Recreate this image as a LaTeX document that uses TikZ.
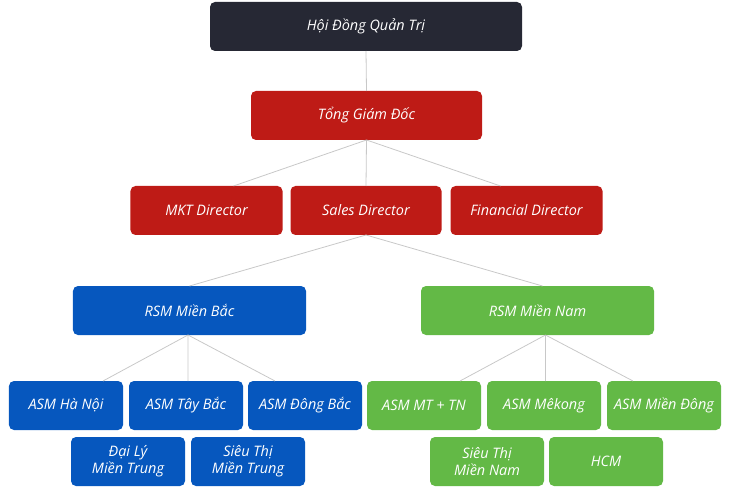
\documentclass[tikz,border=0pt]{standalone}
\usepackage{fontspec}
\setmainfont{Open Sans}
\usepackage{tikz}
\usetikzlibrary{positioning}

\definecolor{boardc}{HTML}{262834}
\definecolor{redc}{HTML}{BE1B16}
\definecolor{bluec}{HTML}{0657BE}
\definecolor{greenc}{HTML}{63B946}
\definecolor{linec}{HTML}{C8C8C8}

\begin{document}
\begin{tikzpicture}[x=1bp,y=-1bp,every node/.style={outer sep=0pt},
        box/.style={rounded corners=5bp,text=white,minimum height=49bp,
        inner sep=2bp,align=center,font=\itshape\fontsize{14.5}{17}\selectfont},
        board/.style={box,fill=boardc,minimum width=312bp},
        ceo/.style={box,fill=redc,minimum width=231bp},
        dir/.style={box,fill=redc,minimum width=152bp},
        rsmb/.style={box,fill=bluec,minimum width=233bp},
        rsmn/.style={box,fill=greenc,minimum width=233bp},
        asmb/.style={box,fill=bluec,minimum width=114bp},
        asmn/.style={box,fill=greenc,minimum width=114bp},
        link/.style={draw=linec,line width=0.8bp}]

        \useasboundingbox (0,0) rectangle (730,495);

        % Top
        \node[board] (hdqt) at (366,26.5) {Hội Đồng Quản Trị};
        \node[ceo] (tgd) at (366.5,115.5) {Tổng Giám Đốc};
        % Directors
        \node[dir,minimum width=151bp] (sales) at (366,210.5) {Sales Director};
        \node[dir,left=8bp of sales] (mkt) {MKT Director};
        \node[dir,right=9bp of sales] (fin) {Financial Director};
        % Regions
        \node[rsmb] (rsmbac) at (189.5,310.5) {RSM Miền Bắc};
        \node[rsmn] (rsmnam) at (537.5,310.5) {RSM Miền Nam};
        % North
        \node[asmb] (hanoi) at (66,405.5) {ASM Hà Nội};
        \node[asmb,right=6bp of hanoi] (taybac) {ASM Tây Bắc};
        \node[asmb,right=5bp of taybac] (dongbac) {ASM Đông Bắc};
        \node[asmb] (daily) at (128,461.5) {Đại Lý\\Miền Trung};
        \node[asmb,right=6bp of daily] (stmt) {Siêu Thị\\Miền Trung};
        % South
        \node[asmn] (mttn) at (424,405.5) {ASM MT + TN};
        \node[asmn,right=6bp of mttn] (mekong) {ASM Mêkong};
        \node[asmn,right=6bp of mekong] (miendong) {ASM Miền Đông};
        \node[asmn] (stmn) at (487,461.5) {Siêu Thị\\Miền Nam};
        \node[asmn,right=5bp of stmn] (hcm) {HCM};

        % Links
        \draw[link] (hdqt.south) -- (tgd.north);
        \draw[link] (tgd.south) -- ([xshift=27bp]mkt.north);
        \draw[link] (tgd.south) -- (sales.north);
        \draw[link] (tgd.south) -- ([xshift=-26bp]fin.north);
        \draw[link] (sales.south) -- (rsmbac.north);
        \draw[link] (sales.south) -- ([xshift=5bp]rsmnam.north);
        \draw[link] ([xshift=-1.5bp]rsmbac.south) -- ([xshift=37bp]hanoi.north);
        \draw[link] ([xshift=-1.5bp]rsmbac.south) -- ([xshift=2bp]taybac.north);
        \draw[link] ([xshift=-1.5bp]rsmbac.south) -- ([xshift=-30bp]dongbac.north);
        \draw[link] ([xshift=8bp]rsmnam.south) -- ([xshift=36bp]mttn.north);
        \draw[link] ([xshift=8bp]rsmnam.south) -- ([xshift=1.5bp]mekong.north);
        \draw[link] ([xshift=8bp]rsmnam.south) -- ([xshift=-31bp]miendong.north);
\end{tikzpicture}
\end{document}
